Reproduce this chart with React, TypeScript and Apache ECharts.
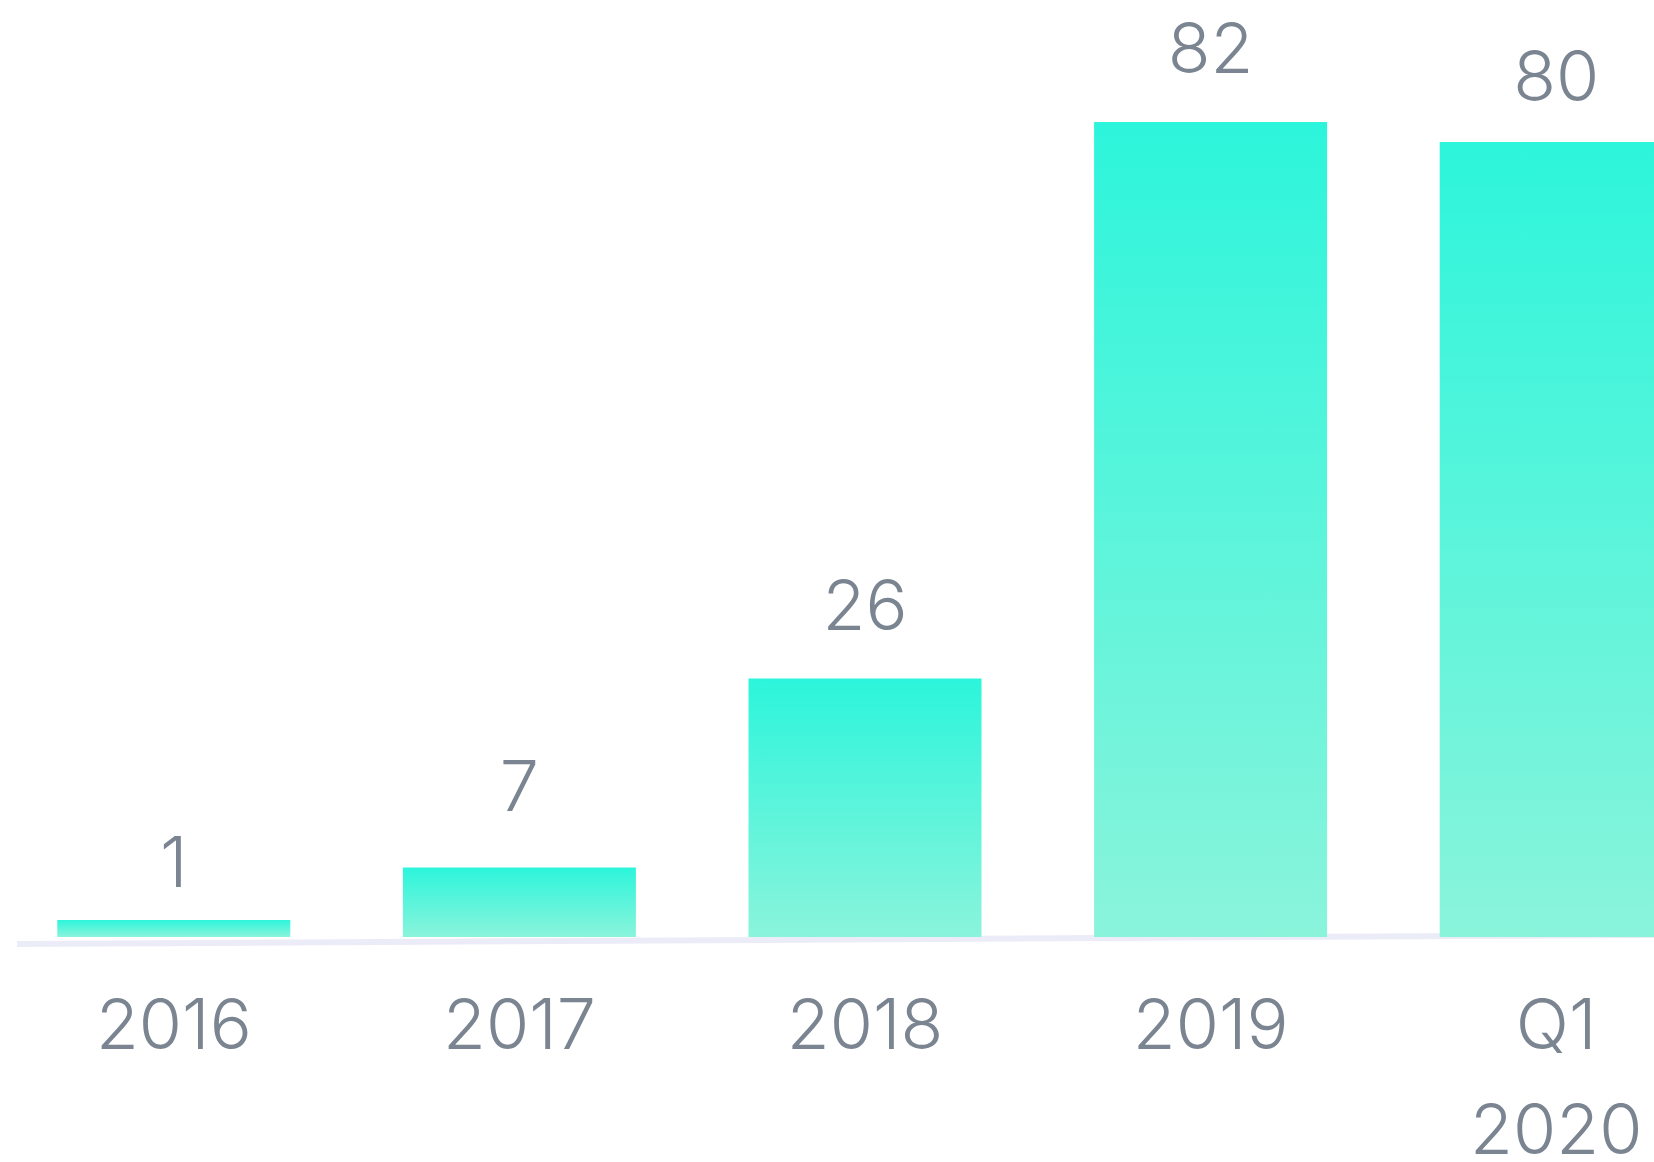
import React, { useEffect, useRef } from "react";
import * as echarts from "echarts";

const categories = ["2016", "2017", "2018", "2019", "Q1\n2020"];
const values = [1, 7, 26, 82, 80];
const labelDistances = [24, 47, 39, 40, 31];

const TEXT_COLOR = "#7B8592";
const FONT = "Inter";

export default function App() {
  const ref = useRef<HTMLDivElement>(null);
  useEffect(() => {
    if (!ref.current) return;
    const chart = echarts.init(ref.current, undefined, { renderer: "svg" });
    const textStyle = {
      color: TEXT_COLOR,
      fontFamily: FONT,
      fontWeight: 300,
      fontSize: 70,
    };
    chart.setOption({
      animation: false,
      backgroundColor: "#ffffff",
      grid: {
        left: 1,
        top: 122,
        width: 1728,
        bottom: 225,
        containLabel: false,
        outerBoundsMode: "none",
      },
      graphic: [
        {
          type: "line",
          z: -1,
          shape: { x1: 17, y1: 944, x2: 1654, y2: 935 },
          style: { stroke: "#ECECF8", lineWidth: 6 },
        },
      ],
      xAxis: {
        type: "category",
        data: categories,
        axisLine: { show: false },
        axisTick: { show: false },
        axisLabel: {
          ...textStyle,
          margin: 14,
          interval: 0,
          formatter: (v: string) => {
            const parts = v.split("\n");
            return parts
              .map((p, i) => (i === 0 ? `{a|${p}}` : `{b|${p}}`))
              .join("\n");
          },
          rich: {
            a: { ...textStyle, lineHeight: 144 },
            b: { ...textStyle, lineHeight: 66 },
          },
        },
      },
      yAxis: {
        type: "value",
        min: 0,
        max: 82,
        show: false,
        splitLine: { show: false },
      },
      series: [
        {
          type: "bar",
          data: values.map((v, i) => ({
            value: v,
            label: { distance: labelDistances[i] },
          })),
          barWidth: 233,
          barMinHeight: 17,
          itemStyle: {
            color: new echarts.graphic.LinearGradient(0, 0, 0, 1, [
              { offset: 0, color: "#2CF5DB" },
              { offset: 1, color: "#8AF4DB" },
            ]),
          },
          label: {
            show: true,
            position: "top",
            ...textStyle,
          },
        },
      ],
    });
    return () => chart.dispose();
  }, []);
  return (
    <div
      ref={ref}
      style={{ position: "fixed", left: 0, top: 0, width: 1654, height: 1162 }}
    />
  );
}
